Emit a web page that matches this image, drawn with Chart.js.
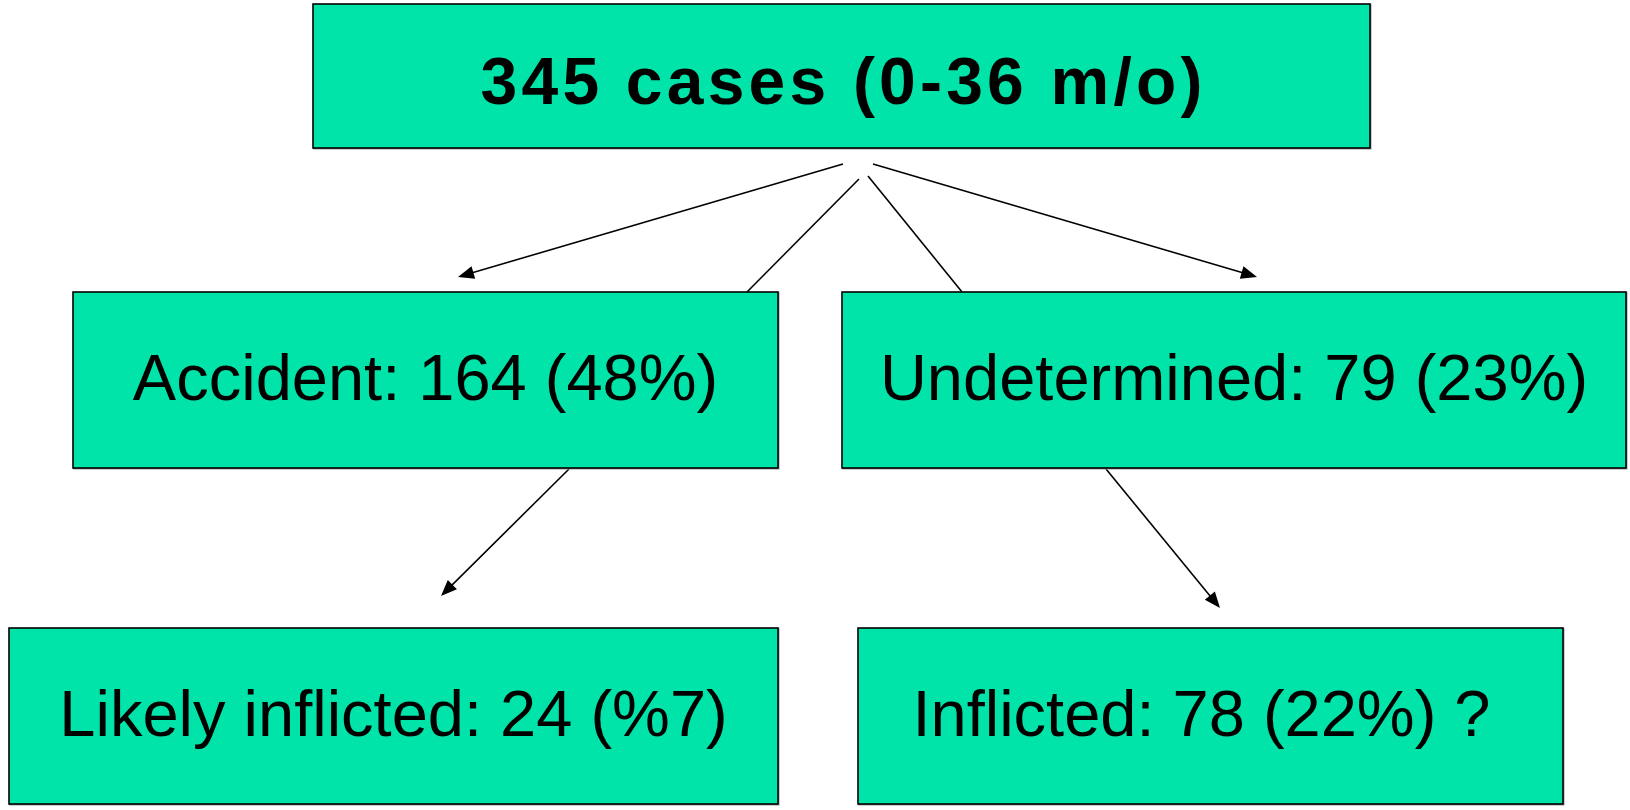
<!DOCTYPE html>
<html>
<head>
<meta charset="utf-8">
<script src="https://cdn.jsdelivr.net/npm/chart.js@4/dist/chart.umd.min.js"></script>
<style>
  html, body { margin: 0; padding: 0; background: #ffffff; }
  #wrap { width: 1630px; height: 810px; }
</style>
</head>
<body>
<div id="wrap"><canvas id="c" width="1630" height="810"></canvas></div>
<script>
// ---- data ----
const categories = ['cases (0-36 m/o)', 'Accident', 'Undetermined', 'Likely inflicted', 'Inflicted'];
const counts = [345, 164, 79, 24, 78];
const percentLabels = ['', '(48%)', '(23%)', '(%7)', '(22%) ? '];

// ---- layout (diagram coordinates, 0..1630 x 0..810) ----
const boxLeft   = [313, 73, 842, 9, 858];
const boxRight  = [1370, 778, 1626, 778, 1563];
const boxTop    = [4, 292, 292, 628, 628];
const boxBottom = [148, 468, 468, 804, 804];
const fontSizes = [66, 65, 65, 65, 65];
const fontBold  = [true, false, false, false, false];
const letterSp  = [4.2, 0, 0, 0, 0];
const textDy    = [10, 2, 2, 2, 2];

// connectors: [x1, y1, x2, y2, hasArrow]
const connX1 = [843, 859, 868, 873, 569, 1106];
const connY1 = [164, 179, 176, 164, 469, 469];
const connX2 = [458, 747, 962, 1257, 441, 1220];
const connY2 = [277, 292, 292, 277, 596, 608];
const connArrow = [true, false, false, true, true, true];

function labelFor(i) {
  if (i === 0) return counts[i] + ' ' + categories[i];
  return categories[i] + ': ' + counts[i] + ' ' + percentLabels[i];
}

const flowPlugin = {
  id: 'flow',
  afterDatasetsDraw(chart) {
    const ctx = chart.ctx;
    const xs = chart.scales.x, ys = chart.scales.y;
    const px = v => xs.getPixelForValue(v);
    const py = v => ys.getPixelForValue(v);
    ctx.save();
    // connectors
    ctx.strokeStyle = '#000';
    ctx.fillStyle = '#000';
    ctx.lineWidth = 1.6;
    for (let k = 0; k < connX1.length; k++) {
      const x1 = px(connX1[k]), y1 = py(connY1[k]), x2 = px(connX2[k]), y2 = py(connY2[k]);
      const ang = Math.atan2(y2 - y1, x2 - x1);
      const head = 16, half = 6.5;
      const ex = connArrow[k] ? x2 - Math.cos(ang) * (head - 2) : x2;
      const ey = connArrow[k] ? y2 - Math.sin(ang) * (head - 2) : y2;
      ctx.beginPath();
      ctx.moveTo(x1, y1);
      ctx.lineTo(ex, ey);
      ctx.stroke();
      if (connArrow[k]) {
        const bx = x2 - Math.cos(ang) * head, by = y2 - Math.sin(ang) * head;
        ctx.beginPath();
        ctx.moveTo(x2, y2);
        ctx.lineTo(bx + Math.sin(ang) * half, by - Math.cos(ang) * half);
        ctx.lineTo(bx - Math.sin(ang) * half, by + Math.cos(ang) * half);
        ctx.closePath();
        ctx.fill();
      }
    }
    // boxes
    for (let i = 0; i < categories.length; i++) {
      const l = px(boxLeft[i]), r = px(boxRight[i]);
      const t = py(boxTop[i]), b = py(boxBottom[i]);
      ctx.fillStyle = '#9a9a9a';
      ctx.fillRect(l, t, r - l + 1.5, b - t + 1.5);
      ctx.fillStyle = '#00E3A9';
      ctx.fillRect(l, t, r - l, b - t);
      ctx.strokeStyle = '#000';
      ctx.lineWidth = 1.6;
      ctx.strokeRect(l, t, r - l, b - t);
      ctx.fillStyle = '#000';
      ctx.font = (fontBold[i] ? 'bold ' : '') + fontSizes[i] + 'px "Liberation Sans", Arial, sans-serif';
      if ('letterSpacing' in ctx) ctx.letterSpacing = letterSp[i] + 'px';
      ctx.textAlign = 'center';
      ctx.textBaseline = 'middle';
      ctx.fillText(labelFor(i), (l + r) / 2 + letterSp[i] / 2, (t + b) / 2 + textDy[i]);
      if ('letterSpacing' in ctx) ctx.letterSpacing = '0px';
    }
    ctx.restore();
  }
};

new Chart(document.getElementById('c'), {
  type: 'scatter',
  data: {
    labels: categories,
    datasets: [{
      data: counts.map((v, i) => ({ x: (boxLeft[i] + boxRight[i]) / 2, y: (boxTop[i] + boxBottom[i]) / 2 })),
      pointRadius: 0,
      pointHoverRadius: 0
    }]
  },
  options: {
    responsive: false,
    animation: false,
    events: [],
    layout: { padding: 0 },
    plugins: { legend: { display: false }, tooltip: { enabled: false } },
    scales: {
      x: { type: 'linear', min: 0, max: 1630, display: false },
      y: { type: 'linear', min: 0, max: 810, reverse: true, display: false }
    }
  },
  plugins: [flowPlugin]
});
</script>
</body>
</html>
